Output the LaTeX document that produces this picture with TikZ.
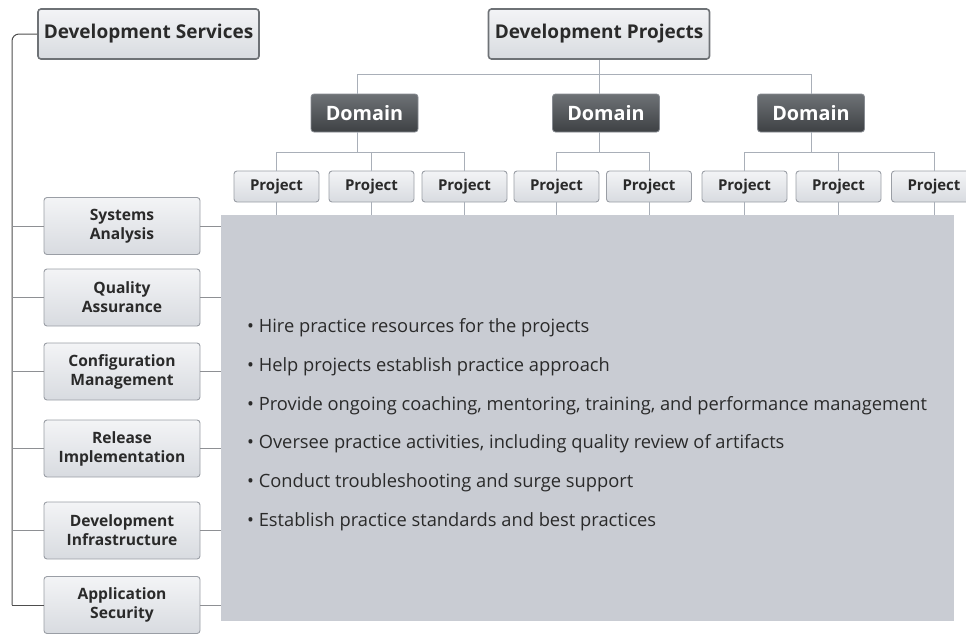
\documentclass[tikz,border=0pt]{standalone}
\usepackage{fontspec}
\setmainfont{Open Sans}
\usetikzlibrary{calc}
\definecolor{txt}{HTML}{2A2A2A}
\definecolor{boxtop}{HTML}{F3F4F6}
\definecolor{boxbot}{HTML}{D8DBE0}
\definecolor{boxedge}{HTML}{9A9EA5}
\definecolor{topedge}{HTML}{6E7276}
\definecolor{domtop}{HTML}{6E7276}
\definecolor{dombot}{HTML}{3E4144}
\definecolor{domedge}{HTML}{888C92}
\definecolor{panelfill}{HTML}{C9CCD3}
\definecolor{treeline}{HTML}{A9AFB8}
\definecolor{trunkline}{HTML}{4E4E4E}
\definecolor{branchline}{HTML}{8E9094}
\tikzset{
  lightbox/.style={draw=boxedge, line width=0.9pt, rounded corners=3pt,
    top color=boxtop, bottom color=boxbot, text=txt, font=\bfseries,
    inner sep=0pt, align=center},
  topbox/.style={lightbox, draw=topedge, line width=1.6pt,
    minimum width=221pt, minimum height=50pt, font=\bfseries\fontsize{19}{21}\selectfont},
  domainbox/.style={draw=domedge, line width=0.8pt, rounded corners=3pt,
    top color=domtop, bottom color=dombot, text=white,
    minimum width=107pt, minimum height=38pt, inner sep=0pt,
    font=\bfseries\fontsize{19.8}{21}\selectfont},
  projbox/.style={lightbox, minimum width=85pt, minimum height=31pt,
    font=\bfseries\fontsize{15}{16}\selectfont},
  servbox/.style={lightbox, minimum width=156pt, minimum height=57pt,
    font=\bfseries\fontsize{15.6}{19}\selectfont},
  conn/.style={draw=treeline, line width=1pt},
  trunk/.style={draw=trunkline, line width=1pt},
  branch/.style={draw=branchline, line width=1pt},
  bullet/.style={anchor=west, text=txt, inner sep=0pt,
    font=\fontsize{18.3}{21}\selectfont}
}
\begin{document}
\begin{tikzpicture}[x=1pt,y=-1pt]
\useasboundingbox (0,0) rectangle (966,633);
\begin{scope}
\clip (0,0) rectangle (966,633);
% panel
\node[fill=panelfill, minimum width=733pt, minimum height=406pt, inner sep=0pt] (panel) at (587.5,418) {};
% top boxes
\node[topbox] (ds) at (148.5,34) {Development Services};
\node[topbox] (dp) at (599,34) {Development Projects};
% domains
\node[domainbox] (d1) at (364.5,113) {Domain};
\node[domainbox] (d2) at (606,113) {Domain};
\node[domainbox] (d3) at (811,113) {Domain};
% projects
\foreach \n/\x in {p11/276.5,p12/371.5,p13/464.5,p21/556.5,p22/649,p31/744.5,p32/838.5,p33/934}{
  \node[projbox] (\n) at (\x,186.5) {Project};
}
% services
\node[servbox] (sa) at (122,226) {Systems\\Analysis};
\node[servbox] (qa) at (122,297.5) {Quality\\Assurance};
\node[servbox] (cm) at (122,371.5) {Configuration\\Management};
\node[servbox] (ri) at (122,448.5) {Release\\Implementation};
\node[servbox] (di) at (122,530.5) {Development\\Infrastructure};
\node[servbox] (as) at (122,605) {Application\\Security};
\end{scope}
% project tree
\draw[conn] (dp.south) -- ++(0,15) coordinate (hub);
\draw[conn] (hub) -| ([xshift=-7.5pt]d1.north);
\draw[conn] (hub) -| (d3.north);
\draw[conn] (hub) -- ([xshift=-7pt]d2.north);
\draw[conn] ([xshift=-7.5pt]d1.south) -- ++(0,20) coordinate (h1);
\draw[conn] (h1) -| (p11.north);
\draw[conn] (h1) -| (p12.north);
\draw[conn] (h1) -| (p13.north);
\draw[conn] ([xshift=-7pt]d2.south) -- ++(0,20) coordinate (h2);
\draw[conn] (h2) -| (p21.north);
\draw[conn] (h2) -| (p22.north);
\draw[conn] (d3.south) -- ++(0,20) coordinate (h3);
\draw[conn] (h3) -| (p31.north);
\draw[conn] (h3) -| (p32.north);
\draw[conn] (h3) -| (p33.north);
\foreach \n in {p11,p12,p13,p21,p22,p31,p32,p33}{
  \draw[conn] (\n.south) -- (\n.south |- panel.north);
}
% services tree
\coordinate (tbot) at (12,605);
\draw[trunk, rounded corners=7pt] (ds.west) -| (tbot);
\draw[trunk] (tbot) -- (as.west);
\foreach \n in {sa,qa,cm,ri,di}{
  \draw[branch] (\n.west -| tbot) -- (\n.west);
}
\foreach \n in {sa,qa,cm,ri,di,as}{
  \draw[branch] (\n.east) -- (\n.east -| panel.west);
}
% bullets
\node[bullet] (b1) at (247,328) {• Hire practice resources for the projects};
\node[bullet] (b2) at (247,367) {• Help projects establish practice approach};
\node[bullet] (b3) at (247,405.5) {• Provide ongoing coaching, mentoring, training, and performance management};
\node[bullet] (b4) at (247,444) {• Oversee practice activities, including quality review of artifacts};
\node[bullet] (b5) at (247,483) {• Conduct troubleshooting and surge support};
\node[bullet] (b6) at (247,521.5) {• Establish practice standards and best practices};
\end{tikzpicture}
\end{document}
